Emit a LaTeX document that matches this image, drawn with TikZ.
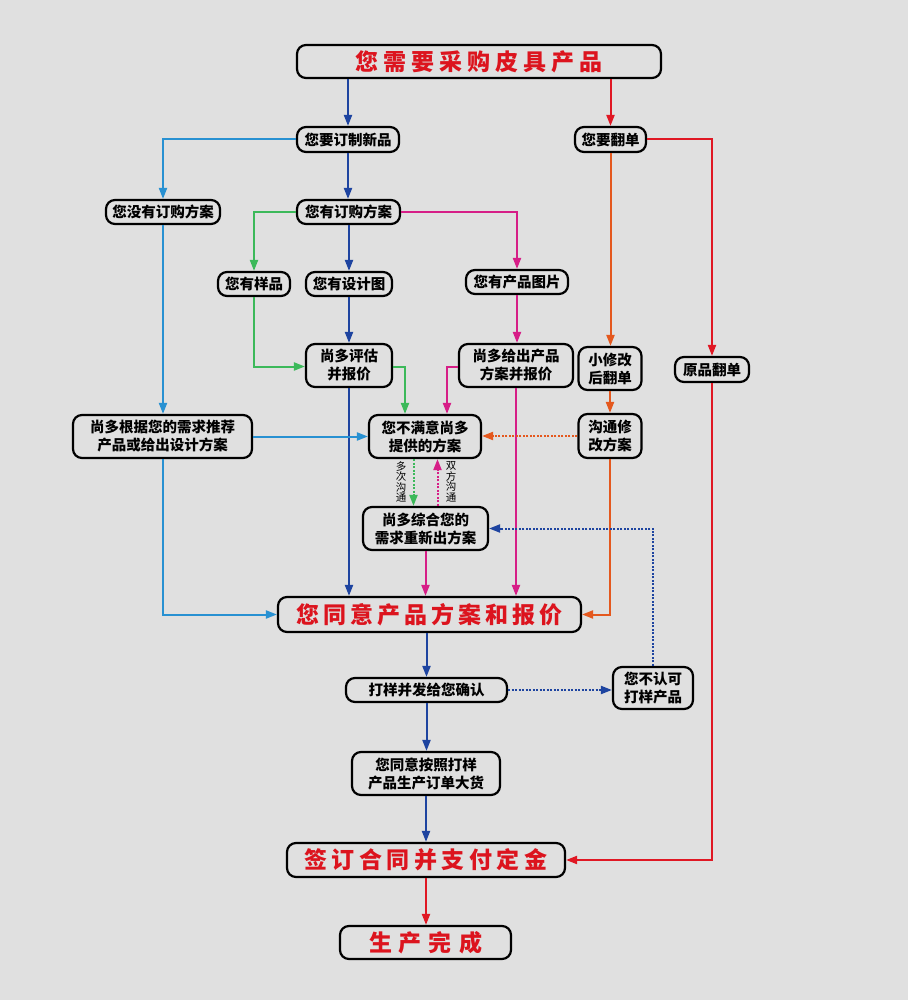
\documentclass[tikz,border=0pt]{standalone}
\usepackage{fontspec}
\newfontfamily\cjk{Noto Sans CJK SC}
\usetikzlibrary{arrows.meta}
\definecolor{bg}{RGB}{224,224,224}
\definecolor{cdb}{RGB}{30,68,160}
\definecolor{clb}{RGB}{40,145,210}
\definecolor{cgr}{RGB}{60,185,90}
\definecolor{cmg}{RGB}{214,30,135}
\definecolor{cor}{RGB}{228,88,30}
\definecolor{crd}{RGB}{224,24,36}
\definecolor{ctx}{RGB}{220,20,30}
\newcommand\gp[1]{\hspace{#1pt}}
\tikzset{
  box/.style={draw=black, line width=2.2pt, fill=bg, rounded corners=9pt, inner sep=0pt,
    align=center, font=\cjk\bfseries\fontsize{14.5}{18}\selectfont},
  big/.style={box, font=\cjk\bfseries\fontsize{23}{26}\selectfont, text=ctx},
  conn/.style={line width=2pt, -{Triangle[length=11pt,width=8pt]}},
  lab/.style={inner sep=0pt, align=center, font=\cjk\fontsize{10.5}{10.5}\selectfont},
  dots/.style={dash pattern=on 2pt off 1.5pt},
}
\begin{document}
\begin{tikzpicture}[x=1pt,y=-1pt]
\fill[bg] (0,0) rectangle (908,1000);
\useasboundingbox (0,0) rectangle (908,1000);

\node[big, minimum width=364, minimum height=33] (top) at (479,61.5) {您\gp{5}需\gp{5}要\gp{5}采\gp{5}购\gp{5}皮\gp{5}具\gp{5}产\gp{5}品};
\node[box, minimum width=102, minimum height=25] (new) at (348,139.5) {您要订制新品};
\node[box, minimum width=71, minimum height=25] (rep) at (610.5,139.5) {您要翻单};
\node[box, minimum width=114, minimum height=24] (none) at (163,212) {您没有订购方案};
\node[box, minimum width=103, minimum height=24] (has) at (348.5,212) {您有订购方案};
\node[box, minimum width=72, minimum height=24] (sample) at (254,284) {您有样品};
\node[box, minimum width=86, minimum height=24] (design) at (349,284) {您有设计图};
\node[box, minimum width=102, minimum height=24] (pic) at (517,282) {您有产品图片};
\node[box, minimum width=86, minimum height=43] (eval) at (349,365.5) {尚多评估\\并报价};
\node[box, minimum width=114, minimum height=43] (give) at (516,365.5) {尚多给出产品\\方案并报价};
\node[box, minimum width=63, minimum height=43] (small) at (610,368.5) {小修改\\后翻单};
\node[box, minimum width=74, minimum height=25] (orig) at (712,369.5) {原品翻单};
\node[box, minimum width=179, minimum height=43] (rec) at (162.5,436.5) {尚多根据您的需求推荐\\产品或给出设计方案};
\node[box, minimum width=112, minimum height=43] (unsat) at (425,436.5) {您不满意尚多\\提供的方案};
\node[box, minimum width=63, minimum height=44] (comm) at (610,436) {沟通修\\改方案};
\node[box, minimum width=125, minimum height=43] (redo) at (425.5,528.5) {尚多综合您的\\需求重新出方案};
\node[big, minimum width=303, minimum height=35] (agree) at (429.5,614.5) {您\gp{4}同\gp{4}意\gp{4}产\gp{4}品\gp{4}方\gp{4}案\gp{4}和\gp{4}报\gp{4}价};
\node[box, minimum width=161, minimum height=24] (proof) at (426.5,690) {打样并发给您确认};
\node[box, minimum width=80, minimum height=42] (rej) at (653,688) {您不认可\\打样产品};
\node[box, minimum width=148, minimum height=43] (mass) at (426,773.5) {您同意按照打样\\产品生产订单大货};
\node[big, minimum width=278, minimum height=34] (sign) at (426,860) {签\gp{4.5}订\gp{4.5}合\gp{4.5}同\gp{4.5}并\gp{4.5}支\gp{4.5}付\gp{4.5}定\gp{4.5}金};
\node[big, minimum width=171, minimum height=33] (done) at (425.5,942.5) {生\gp{7}产\gp{7}完\gp{7}成};

\node[lab] (l1) at (401,482) {多\\次\\沟\\通};
\node[lab] (l2) at (451,482) {双\\方\\沟\\通};

% top level
\draw[conn, cdb] (new.north |- top.south) -- (new.north);
\draw[conn, crd] (rep.north |- top.south) -- (rep.north);
% custom branch
\draw[conn, clb] (new.west) -| (none.north);
\draw[conn, cdb] (new.south) -- (has.north -| new.south);
\draw[conn, cgr] (has.west) -| (sample.north);
\draw[conn, cdb] (has.south -| design.north) -- (design.north);
\draw[conn, cmg] (has.east) -| (pic.north);
\draw[conn, cgr] (sample.south) |- ([yshift=-1pt]eval.west);
\draw[conn, cdb] (design.south) -- (eval.north);
\draw[conn, cmg] (pic.south) -- (give.north -| pic.south);
\draw[conn, cgr] ([yshift=-1pt]eval.east) -| ([xshift=-20pt]unsat.north);
\draw[conn, cmg] ([yshift=-1pt]give.west) -| ([xshift=22pt]unsat.north);
\draw[conn, cdb] (eval.south) -- (eval.south |- agree.north);
\draw[conn, cmg] (give.south) -- (give.south |- agree.north);
\draw[conn, clb] (none.south) -- (rec.north -| none.south);
\draw[conn, clb] (rec.east) -- (rec.east -| unsat.west);
\draw[conn, clb] (rec.south) |- (agree.west);
% loop
\draw[conn, cgr, dots] ([xshift=-12pt]redo.north |- unsat.south) -- ([xshift=-12pt]redo.north);
\draw[conn, cmg, dots] ([xshift=12pt]redo.north) -- ([xshift=12pt]redo.north |- unsat.south);
\draw[conn, cmg] (redo.south) -- (redo.south |- agree.north);
% repeat order branch
\draw[conn, cor] (rep.south) -- (small.north -| rep.south);
\draw[conn, cor] (small.south) -- (comm.north);
\draw[conn, cor, dots] (comm.west) -- (comm.west -| unsat.east);
\draw[conn, cor] (comm.south) |- (agree.east);
\draw[conn, crd] (rep.east) -| (orig.north);
\draw[conn, crd] (orig.south) |- (sign.east);
% lower part
\draw[conn, cdb] (proof.north |- agree.south) -- (proof.north);
\draw[conn, cdb, dots] (proof.east) -- (proof.east -| rej.west);
\draw[conn, cdb, dots] (rej.north) |- (redo.east);
\draw[conn, cdb] (proof.south) -- (mass.north -| proof.south);
\draw[conn, cdb] (mass.south) -- (sign.north);
\draw[conn, crd] (sign.south) -- (done.north -| sign.south);
\end{tikzpicture}
\end{document}
